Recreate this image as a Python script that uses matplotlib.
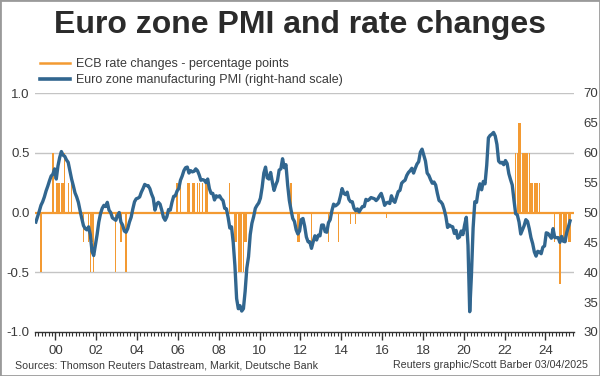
import numpy as np
import matplotlib
matplotlib.use('Agg')
import matplotlib.pyplot as plt
from matplotlib.lines import Line2D
from matplotlib.patches import Rectangle

plt.rcParams['font.family'] = ['Liberation Sans', 'DejaVu Sans']

# Euro zone manufacturing PMI, monthly from Jan 1999 to Mar 2025
pmi_start_year = 1999
pmi = [
    48.4, 49.3, 50.2, 51.2, 51.8, 52.6, 53.6, 54.4, 55.3, 56.1, 56.4, 57.3,  # 1999
    55.6, 57.8, 59.2, 60.2, 59.6, 59.4, 58.8, 58.4, 57.0, 55.6, 54.5, 53.3,  # 2000
    52.6, 51.7, 50.3, 49.0, 47.8, 47.3, 47.1, 47.6, 46.3, 43.5, 42.8, 44.6,  # 2001
    46.3, 48.4, 49.8, 50.7, 51.2, 51.0, 51.7, 50.4, 50.0, 49.1, 48.9, 48.7,  # 2002
    49.5, 50.0, 48.4, 47.9, 46.9, 46.7, 47.3, 48.4, 49.2, 50.6, 51.8, 52.3,  # 2003
    52.4, 52.6, 53.4, 54.0, 54.7, 54.5, 54.5, 54.0, 53.1, 52.4, 50.4, 51.4,  # 2004
    51.7, 51.4, 50.4, 49.2, 48.7, 49.3, 50.5, 50.4, 51.7, 52.7, 52.8, 53.6,  # 2005
    54.0, 55.4, 56.1, 57.0, 57.5, 57.6, 56.6, 57.0, 56.8, 56.9, 57.3, 57.0,  # 2006
    56.3, 55.4, 55.5, 55.4, 55.0, 55.6, 54.0, 53.2, 53.2, 52.1, 52.8, 52.6,  # 2007
    52.8, 52.3, 52.0, 50.7, 50.6, 49.2, 47.4, 47.6, 45.0, 41.1, 35.6, 33.9,  # 2008
    34.4, 33.5, 33.9, 36.8, 40.7, 42.6, 46.3, 48.2, 49.3, 50.7, 51.2, 51.6,  # 2009
    52.4, 54.2, 56.6, 57.6, 55.8, 55.6, 56.7, 55.1, 53.7, 54.6, 55.3, 57.1,  # 2010
    57.3, 59.0, 57.5, 58.0, 54.6, 52.0, 50.4, 49.0, 48.5, 47.1, 46.4, 46.9,  # 2011
    48.8, 49.0, 47.7, 45.9, 45.1, 45.1, 44.0, 45.1, 46.1, 45.4, 46.2, 46.1,  # 2012
    47.9, 47.9, 46.8, 46.7, 48.3, 48.8, 50.3, 51.4, 51.1, 51.3, 51.6, 52.7,  # 2013
    54.0, 53.2, 53.0, 53.4, 52.2, 51.8, 51.8, 50.7, 50.3, 50.6, 50.1, 50.6,  # 2014
    51.0, 51.0, 52.2, 52.0, 52.2, 52.5, 52.4, 52.3, 52.0, 52.3, 52.8, 53.2,  # 2015
    52.3, 51.2, 51.6, 51.7, 51.5, 52.8, 52.0, 51.7, 52.6, 53.5, 53.7, 54.9,  # 2016
    55.2, 55.4, 56.2, 56.7, 57.0, 57.4, 56.6, 57.4, 58.1, 58.5, 60.1, 60.6,  # 2017
    59.6, 58.6, 56.6, 56.2, 55.5, 54.9, 55.1, 54.6, 53.2, 52.0, 51.8, 51.4,  # 2018
    50.5, 49.3, 47.5, 47.9, 47.7, 47.6, 46.5, 47.0, 45.7, 45.9, 46.9, 46.3,  # 2019
    47.9, 49.2, 44.5, 33.4, 39.4, 47.4, 51.8, 51.7, 53.7, 54.8, 53.8, 55.2,  # 2020
    54.8, 57.9, 62.5, 62.9, 63.1, 63.4, 62.8, 61.4, 58.6, 58.3, 58.4, 58.0,  # 2021
    58.7, 58.2, 56.5, 55.5, 54.6, 52.1, 49.8, 49.6, 48.4, 46.4, 47.1, 47.8,  # 2022
    48.8, 48.5, 47.3, 45.8, 44.8, 43.4, 42.7, 43.5, 43.4, 43.1, 44.2, 44.4,  # 2023
    46.6, 46.5, 46.1, 45.7, 47.3, 45.8, 45.8, 45.8, 45.0, 46.0, 45.2, 45.1,  # 2024
    46.6, 47.6, 48.6,                                                        # 2025
]

# ECB rate changes (percentage points), by month
rate_months = [
    '1999-04', '1999-11',
    '2000-01', '2000-02', '2000-03', '2000-04', '2000-05', '2000-06', '2000-08', '2000-10',
    '2001-05', '2001-08', '2001-09', '2001-10', '2001-11',
    '2002-12', '2003-03', '2003-06',
    '2005-12', '2006-02', '2006-06', '2006-07', '2006-09', '2006-10', '2006-12',
    '2007-01', '2007-03', '2007-05', '2007-06',
    '2008-07', '2008-10', '2008-11', '2008-12',
    '2009-01', '2009-02', '2009-03', '2009-04', '2009-05',
    '2011-07', '2011-11', '2011-12',
    '2012-07', '2013-05', '2013-11', '2014-06', '2014-09', '2016-03',
    '2022-07', '2022-08', '2022-09', '2022-10', '2022-11', '2022-12',
    '2023-01', '2023-02', '2023-03', '2023-04', '2023-05', '2023-06',
    '2023-07', '2023-08', '2023-09',
    '2024-06', '2024-09', '2024-10', '2024-11', '2024-12',
    '2025-01', '2025-02', '2025-03',
]
rate_changes = [
    -0.5, 0.5,
    0.25, 0.25, 0.25, 0.25, 0.25, 0.5, 0.25, 0.25,
    -0.25, -0.25, -0.5, -0.25, -0.5,
    -0.5, -0.25, -0.5,
    0.25, 0.25, 0.25, 0.25, 0.25, 0.25, 0.25,
    0.25, 0.25, 0.25, 0.25,
    0.25, -0.25, -0.25, -0.5,
    -0.5, -0.5, -0.5, -0.25, -0.25,
    0.25, -0.25, -0.25,
    -0.25, -0.25, -0.25, -0.1, -0.1, -0.05,
    0.5, 0.5, 0.75, 0.75, 0.5, 0.5,
    0.5, 0.5, 0.5, 0.25, 0.25, 0.25,
    0.25, 0.25, 0.25,
    -0.25, -0.6, -0.25, -0.25, -0.25,
    -0.25, -0.25, -0.25,
]

year_ticks = list(range(2000, 2025, 2))
year_labels = ['%02d' % (y % 100) for y in year_ticks]

orange = '#f39a32'
blue = '#31668f'
grey_text = '#3a3a3a'

# decimal years at mid-month
pmi_t = pmi_start_year + (np.arange(len(pmi)) + 0.5) / 12.0
rate_t = np.array([int(m[:4]) + (int(m[5:]) - 0.5) / 12.0 for m in rate_months])

fig = plt.figure(figsize=(6, 3.76), dpi=100)
ax = fig.add_axes([35 / 600, 1 - 332 / 376, 539 / 600, 239 / 376])
ax2 = ax.twinx()

ax.bar(rate_t, rate_changes, width=0.066, color=orange, linewidth=0, zorder=2)
ax.axhline(0, color=orange, lw=1.6, zorder=3)
for g in [1.0, 0.5, -0.5]:
    ax.axhline(g, color='#c4c4c4', lw=1, zorder=1)

ax2.plot(pmi_t, pmi, color=blue, lw=2.4, solid_joinstyle='round')

ax.set_xlim(1999.0, 2025.4)
ax.set_ylim(-1, 1)
ax2.set_ylim(30, 70)

ax.set_yticks([-1.0, -0.5, 0.0, 0.5, 1.0])
ax.set_yticklabels(['-1.0', '-0.5', '0.0', '0.5', '1.0'])
ax2.set_yticks(range(30, 71, 5))
ax.set_xticks(year_ticks)
ax.set_xticklabels(year_labels)
ax.set_xticks(np.arange(1999, 2025.4, 1 / 6.0), minor=True)

for a in (ax, ax2):
    for s in ['top', 'left', 'right']:
        a.spines[s].set_visible(False)
ax2.spines['bottom'].set_visible(False)
ax.spines['bottom'].set_color('#333333')
ax.spines['bottom'].set_linewidth(1.0)

ax.tick_params(axis='y', length=0, pad=4, labelsize=9.5, labelcolor=grey_text)
ax2.tick_params(axis='y', length=0, pad=7, labelsize=9.5, labelcolor=grey_text)
ax.tick_params(axis='x', which='major', length=6, width=1, color='#333333',
               labelsize=9.5, labelcolor=grey_text, pad=3)
ax.tick_params(axis='x', which='minor', length=3, width=0.8, color='#333333')

fig.text(0.5, 1 - 25 / 376, 'Euro zone PMI and rate changes', ha='center', va='center',
         fontsize=23, fontweight='bold', color='#2b2b2b')

handles = [Line2D([], [], color=orange, lw=1.8), Line2D([], [], color=blue, lw=2.6)]
labels = ['ECB rate changes - percentage points',
          'Euro zone manufacturing PMI (right-hand scale)']
fig.legend(handles, labels, loc='upper left', bbox_to_anchor=(40 / 600, 1 - 58 / 376),
           frameon=False, fontsize=9, handlelength=2.4, handletextpad=0.5,
           labelspacing=0.35, borderpad=0, borderaxespad=0, labelcolor=grey_text)

fig.text(15 / 600, 1 - 365 / 376, 'Sources: Thomson Reuters Datastream, Markit, Deutsche Bank',
         ha='left', va='center', fontsize=7.7, color=grey_text)
fig.text(588 / 600, 1 - 365 / 376, 'Reuters graphic/Scott Barber 03/04/2025',
         ha='right', va='center', fontsize=7.7, color=grey_text)

fig.patches.append(Rectangle((0, 0), 1, 1, transform=fig.transFigure, fill=False,
                             edgecolor='#9a9a9a', lw=2))

fig.savefig('out.png', dpi=100)
